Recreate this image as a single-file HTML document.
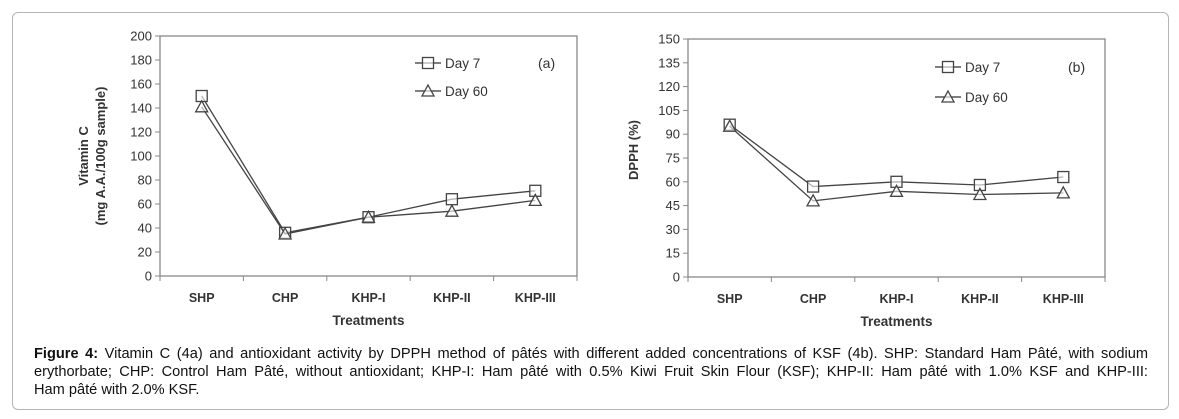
<!DOCTYPE html>
<html><head><meta charset="utf-8"><style>
body{margin:0;background:#fff;width:1179px;height:419px;overflow:hidden;font-family:"Liberation Sans",Arial,sans-serif}
#frame{position:absolute;left:12px;top:12px;width:1155px;height:396px;border:1px solid #b5b5b5;border-radius:6px}
#cap{position:absolute;left:34px;top:345px;width:1114px;font-size:14.6px;line-height:18px;color:#111}
#cap span{display:block;white-space:nowrap}
#cap span.j{text-align:justify;text-align-last:justify;white-space:normal}
svg text{font-family:"Liberation Sans",Arial,sans-serif;fill:#333}
</style></head><body>
<div id="frame"></div>
<svg id="chart" width="1179" height="340" style="position:absolute;left:0;top:0"></svg>
<div id="cap"><span class="j"><b>Figure 4:</b> Vitamin C (4a) and antioxidant activity by DPPH method of pâtés with different added concentrations of KSF (4b). SHP: Standard Ham Pâté, with sodium</span><span class="j">erythorbate; CHP: Control Ham Pâté, without antioxidant; KHP-I: Ham pâté with 0.5% Kiwi Fruit Skin Flour (KSF); KHP-II: Ham pâté with 1.0% KSF and KHP-III:</span><span>Ham pâté with 2.0% KSF.</span></div>
<script>
const categories=["SHP","CHP","KHP-I","KHP-II","KHP-III"];
const vitCDay7=[150,36,49,64,71];
const vitCDay60=[141,35,49,54,63];
const vitCTicks=[0,20,40,60,80,100,120,140,160,180,200];
const dpphDay7=[96,57,60,58,63];
const dpphDay60=[95,48,54,52,53];
const dpphTicks=[0,15,30,45,60,75,90,105,120,135,150];

const NS="http://www.w3.org/2000/svg";
const svg=document.getElementById('chart');
function mk(tag,attrs,parent,text){const e=document.createElementNS(NS,tag);for(const k in attrs)e.setAttribute(k,attrs[k]);if(text!==undefined)e.textContent=text;(parent||svg).appendChild(e);return e;}

function drawChart(cfg){
  const g=mk('g',{});
  
  
  const {L,R,T,B,max,ticks}=cfg;
  const bw=(R-L)/categories.length;
  const x=i=>L+bw*(i+0.5);
  const y=v=>B-(v/max)*(B-T);
  const box=mk('rect',{x:L,y:T,width:R-L,height:B-T,fill:'none',stroke:'#888','stroke-width':1.3},g);
  
  
  ticks.forEach(t=>{
    mk('line',{x1:L-5,x2:L,y1:y(t),y2:y(t),stroke:'#888'},g);
    const tl=mk('text',{x:L-8,y:y(t)+4.5,'text-anchor':'end','font-size':13},g,t);
    
    
  });
  for(let i=0;i<=categories.length;i++) mk('line',{x1:L+bw*i,x2:L+bw*i,y1:B,y2:B+5,stroke:'#888'},g);
  categories.forEach((c,i)=>{
    const tl=mk('text',{x:x(i),y:B+26,'text-anchor':'middle','font-size':12.5,'font-weight':'bold',fill:'#444'},g,c);
    
    
  });
  const xt=mk('text',{x:(L+R)/2,y:B+49,'text-anchor':'middle','font-size':13.5,'font-weight':'bold'},g,'Treatments');
  
  
  cfg.ylab.forEach((s,k)=>{
    const cx=cfg.ylx[k], cy=cfg.yly;
    const yt=mk('text',{x:cx,y:cy,'text-anchor':'middle','font-size':13,'font-weight':'bold',transform:`rotate(-90 ${cx} ${cy})`},g,s);
    
    
  });
  const series=[[cfg.d7,'sq','day-7'],[cfg.d60,'tri','day-60']];
  series.forEach(([d,m,n])=>{
    const pl=mk('polyline',{points:d.map((v,i)=>x(i)+','+y(v)).join(' '),fill:'none',stroke:'#444','stroke-width':1.3},g);
    
    
    d.forEach((v,i)=>{
      const mkr=marker(g,m,x(i),y(v));
      
      
    });
  });
  [['Day 7','sq',cfg.lgy],['Day 60','tri',cfg.lgy+cfg.lgdy]].forEach(([t,m,ly])=>{
    mk('line',{x1:cfg.lgx,x2:cfg.lgx+26,y1:ly,y2:ly,stroke:'#333','stroke-width':1.3},g);
    marker(g,m,cfg.lgx+13,ly);
    const lt=mk('text',{x:cfg.lgx+30,y:ly+5,'font-size':13.5},g,t);
    
    
  });
  const pl=mk('text',{x:cfg.px,y:cfg.lgy+5,'font-size':14},g,cfg.panel);
  
  
}
function marker(g,m,cx,cy){
  if(m==='sq') return mk('rect',{x:cx-5.5,y:cy-5.5,width:11,height:11,fill:'#fff','fill-opacity':0.6,stroke:'#444','stroke-width':1.3},g);
  return mk('polygon',{points:`${cx},${cy-6} ${cx+6},${cy+5} ${cx-6},${cy+5}`,fill:'#fff','fill-opacity':0.6,stroke:'#444','stroke-width':1.3},g);
}
drawChart({name:'vitamin-c-chart',L:160,R:577,T:36,B:276,max:200,ticks:vitCTicks,d7:vitCDay7,d60:vitCDay60,
  ylab:['Vitamin C','(mg A.A./100g sample)'],ylx:[88,105],yly:156,lgx:415,lgy:63,lgdy:28,px:538,panel:'(a)'});
drawChart({name:'dpph-chart',L:688,R:1105,T:39,B:277,max:150,ticks:dpphTicks,d7:dpphDay7,d60:dpphDay60,
  ylab:['DPPH (%)'],ylx:[638],yly:150,lgx:935,lgy:67,lgdy:30,px:1068,panel:'(b)'});
</script>
</body></html>
